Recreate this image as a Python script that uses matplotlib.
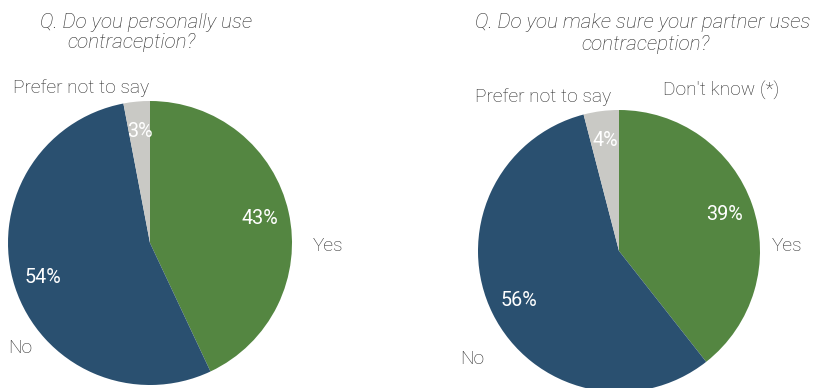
import matplotlib.pyplot as plt

# survey answers, in percent
left_labels = ["Yes", "No", "Prefer not to say"]
left_values = [43, 54, 3]

right_labels = ["Yes", "No", "Prefer not to say", "Don't know (*)"]
right_values = [39, 56, 4, 0]

colors = ["#548641", "#2a5070", "#c9c9c5", "#a5a5a5"]

FONT = "Roboto"
TXT = "#262626"

W, H = 822, 388
fig = plt.figure(figsize=(W / 100, H / 100), dpi=100)


def draw_pie(cx, cy, r, values, labels, label_px):
    # square axes around the pie, pixel centre (cx, cy) measured from the top-left
    ax = fig.add_axes([(cx - r) / W, (H - cy - r) / H, 2 * r / W, 2 * r / H])
    total = sum(values)
    wedges, texts, autotexts = ax.pie(
        values, labels=labels, colors=colors[:len(values)], startangle=90,
        counterclock=False, radius=1, pctdistance=0.79,
        autopct=lambda p: f"{p * total / 100:.0f}%" if p >= 0.5 else "",
        wedgeprops=dict(linewidth=0),
        textprops=dict(fontfamily=FONT, fontweight="light", fontsize=13.8, color=TXT))
    for t, (x, y) in zip(texts, label_px):
        t.set_position(((x - cx) / r, (cy - y) / r))
        t.set_ha("left")
        t.set_va("center")
    for t in autotexts:
        t.set_color("white")
        t.set_fontweight("normal")
        t.set_fontsize(14.2)
    ax.set_xlim(-1, 1)
    ax.set_ylim(-1, 1)
    ax.axis("off")
    return ax


draw_pie(150, 243, 142, left_values, left_labels, [(313, 246), (8, 348), (13, 88)])
draw_pie(619, 251, 141, right_values, right_labels,
         [(772, 246), (460, 359), (475, 97), (663, 90)])

title_kw = dict(fontfamily=FONT, fontstyle="italic", fontweight="light",
                fontsize=14.9, color="#262626", va="center")
fig.text(40 / W, 1 - 22 / H, "Q. Do you personally use", ha="left", **title_kw)
fig.text(67 / W, 1 - 43 / H, "contraception?", ha="left", **title_kw)
fig.text(643 / W, 1 - 22 / H, "Q. Do you make sure your partner uses", ha="center", **title_kw)
fig.text(646 / W, 1 - 44 / H, "contraception?", ha="center", **title_kw)

fig.savefig("out.png", dpi=100)
